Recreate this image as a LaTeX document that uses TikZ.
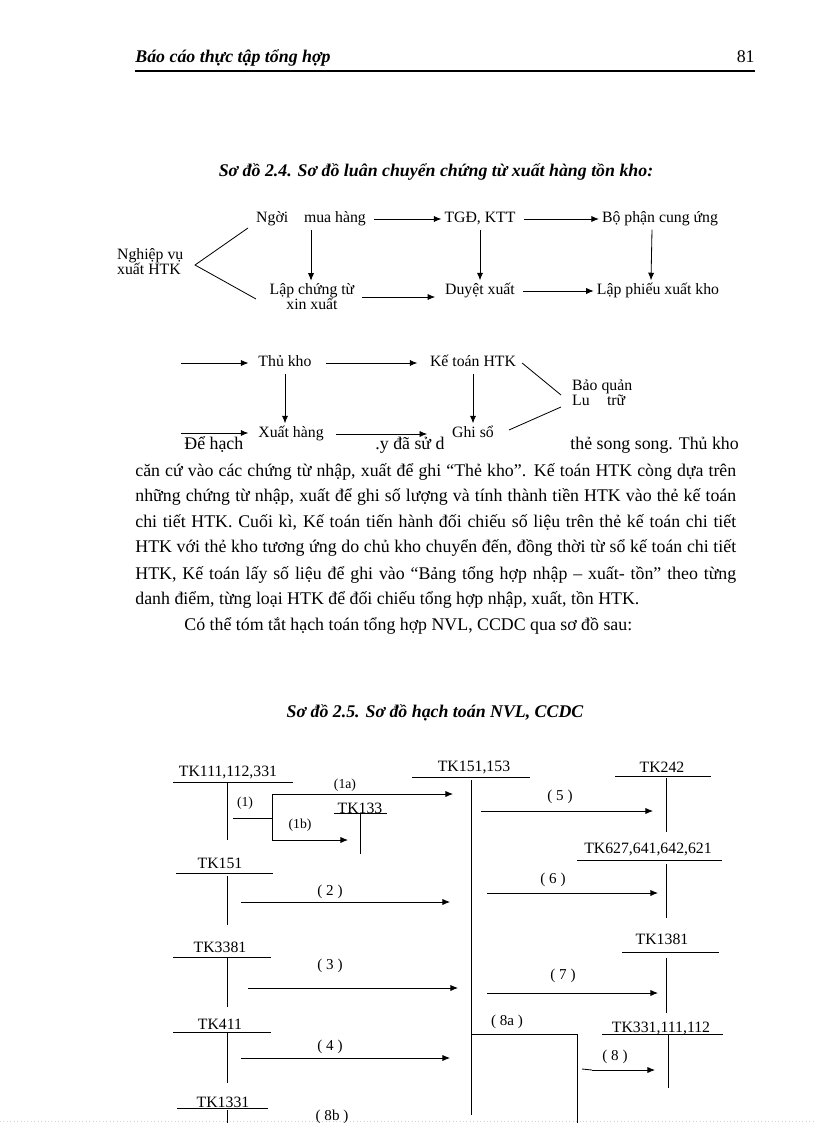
\documentclass[tikz,border=0pt]{standalone}
\usepackage{fontspec}
\setmainfont{Liberation Serif}
\usetikzlibrary{calc,arrows.meta}

\begin{document}
\begin{tikzpicture}[x=0.729pt,y=-0.729pt,line width=0.6pt,
	>={Latex[length=5.5pt,width=4.5pt]},
	head/.style={inner sep=0pt,font=\fontsize{13}{15}\selectfont\bfseries\itshape},
	body/.style={anchor=base west,inner sep=0pt,font=\fontsize{13}{15}\selectfont},
	flow/.style={inner sep=2pt,font=\fontsize{11.5}{12}\selectfont,text height=8pt,text depth=3pt},
	flowtwo/.style={inner sep=2pt,font=\fontsize{11.5}{11}\selectfont},
	acct/.style={inner sep=0pt,font=\fontsize{11.5}{12}\selectfont},
	num/.style={inner sep=0pt,font=\fontsize{11}{12}\selectfont},
	small/.style={inner sep=0pt,font=\fontsize{10}{12}\selectfont}]
	
	\fill[white] (0,0) rectangle (816,1123);
	\useasboundingbox (0,0) rectangle (816,1123);
	
	% page head
	\node[head,anchor=base west] (hdr) at (135,63) {Báo cáo thực tập tổng hợp};
	\node[anchor=base east,inner sep=0pt,font=\fontsize{13}{15}\selectfont] (pg) at (755,63) {81};
	\draw[line width=1.6pt] (135,71) -- (755,71);
	
	\node[head,anchor=base] (title1) at (436,177) {Sơ đồ 2.4. Sơ đồ luân chuyển chứng từ xuất hàng tồn kho:};
	
	% so do 2.4
	\node[flowtwo,align=left,anchor=west] (nghiep) at (114,262) {Nghiệp vụ\\xuất HTK};
	\node[flow] (buyer) at (311,219) {Ngời\hspace{1em}mua hàng};
	\node[flow] (tgd) at (480,219) {TGĐ, KTT};
	\node[flow] (bpcu) at (660,219) {Bộ phận cung ứng};
	\node[flowtwo,align=center] (lapct) at (312,297) {Lập chứng từ\\xin xuất};
	\node[flow] (duyet) at (480,291) {Duyệt xuất};
	\node[flow] (lappx) at (658,291) {Lập phiếu xuất kho};
	
	\coordinate (fork) at (195,265);
	\coordinate (forka) at (248,228);
	\coordinate (forkb) at (256,299);
	\draw (forka) -- (fork) -- (forkb);
	
	\draw[->,shorten <=4pt] (buyer) -- (tgd);
	\draw[->,shorten <=4pt] (tgd) -- (bpcu);
	\draw[->] (buyer) -- (buyer |- lapct.north);
	\draw[->] (tgd) -- (duyet);
	\draw[->] ($(bpcu.south)+(-8,0)$) -- ($(lappx.north)+(-7,0)$);
	\draw[->,shorten <=3pt,shorten >=5pt] (lapct.east) -- (lapct.east -| duyet.west);
	\draw[->,shorten <=4pt] (duyet) -- (lappx);
	
	\node[flow] (thukho) at (285,363) {Thủ kho};
	\node[flow] (ketoan) at (473,363) {Kế toán HTK};
	\node[flowtwo,align=left,anchor=west] (baoquan) at (569,393) {Bảo quản\\Lu\hspace{1.1em}trữ};
	\node[flow] (xuathang) at (291,434) {Xuất hàng};
	\node[flow] (ghiso) at (473,434) {Ghi sổ};
	
	% doan van bi so do che
	\node[body] (fragA) at (184,449) {Để hạch};
	\node[body] (fragB) at (375,449) {.y đã sử d};
	\node[body] (fragC) at (570,449) {thẻ song song. Thủ kho};
	
	\coordinate (inA) at (181,363);
	\coordinate (inB) at (181,433);
	\draw[->,shorten >=5pt] (inA) -- (thukho);
	\draw[->,shorten <=8pt,shorten >=7pt] (thukho) -- (ketoan);
	\draw[->,shorten >=5pt] (inB) -- (inB -| xuathang.west);
	\draw[->,shorten <=7pt,shorten >=16pt] (xuathang) -- (ghiso);
	\draw[->] (thukho.south) -- (thukho.south |- xuathang.north);
	\draw[->] (ketoan) -- (ghiso);
	\coordinate (bqa) at (561,395);
	\coordinate (bqb) at (561,407);
	\draw ($(ketoan.east)+(3,0)$) -- (bqa);
	\draw (bqb) -- ($(ghiso.east)+(12,-4)$);
	
	% doan van
	\node[body] (p2) at (135,476) {\makebox[438pt][s]{căn cứ vào các chứng từ nhập, xuất để ghi “Thẻ kho”. Kế toán HTK còng dựa trên}};
	\node[body] (p3) at (135,501) {\makebox[438pt][s]{những chứng từ nhập, xuất để ghi số lượng và tính thành tiền HTK vào thẻ kế toán}};
	\node[body] (p4) at (135,527) {\makebox[438pt][s]{chi tiết HTK. Cuối kì, Kế toán tiến hành đối chiếu số liệu trên thẻ kế toán chi tiết}};
	\node[body] (p5) at (135,552) {\makebox[438pt][s]{HTK với thẻ kho tương ứng do chủ kho chuyển đến, đồng thời từ sổ kế toán chi tiết}};
	\node[body] (p6) at (135,579) {\makebox[438pt][s]{HTK, Kế toán lấy số liệu để ghi vào “Bảng tổng hợp nhập – xuất- tồn” theo từng}};
	\node[body] (p7) at (135,604) {danh điểm, từng loại HTK để đối chiếu tổng hợp nhập, xuất, tồn HTK.};
	\node[body] (p8) at (184,630) {Có thể tóm tắt hạch toán tổng hợp NVL, CCDC qua sơ đồ sau:};
	
	\node[head,anchor=base] (title2) at (435,717) {Sơ đồ 2.5. Sơ đồ hạch toán NVL, CCDC};
	
	% so do 2.5: tai khoan chu T
	\foreach \nm/\lbl/\tx/\ty/\la/\lb/\ly/\vx/\vt/\vb in {
		tkA/{TK111,112,331}/228/772/173/293/782/227/782/840,
		tkB/{TK133}/360/808/334/387/813/360/813/854,
		tkC/{TK151,153}/474/767/412/530/777/471/780/1115,
		tkD/{TK242}/662/767/615/711/776/666/778/832,
		tkE/{TK627,641,642,621}/648/849/577/722/860/666/864/918,
		tkF/{TK151}/220/863/176/273/873/227/876/925,
		tkG/{TK1381}/662/939/622/719/952/666/958/1013,
		tkH/{TK3381}/220/947/173/271/957/227/957/1007,
		tkI/{TK331,111,112}/661/1028/602/723/1034/668/1034/1088,
		tkJ/{TK411}/220/1024/173/271/1032/227/1032/1083,
		tkK/{TK1331}/223/1102/177/268/1108/227/1110/1123}{
		\node[acct] (\nm) at (\tx,\ty) {\lbl};
		\draw (\la,\ly) -- (\lb,\ly);
		\draw (\vx,\vt) -- (\vx,\vb);}
	
	\foreach \nm/\xa/\xb/\yy in {a1a/272/453/794, a1b/272/348/840, a2/241/450/902,
		a3/248/458/988, a4/241/450/1058, a5/481/653/811, a6/487/658/893,
		a7/487/658/993, a8/592/655/1070}{
		\coordinate (\nm-s) at (\xa,\yy);
		\coordinate (\nm-e) at (\xb,\yy);
		\draw[->] (\nm-s) -- (\nm-e);}
	
	\coordinate (brk) at (233,818);
	\draw (a1a-s) -- (a1b-s);
	\draw (brk) -- (brk -| a1a-s);
	\draw (582,1069) -- (a8-s);
	\draw (471,1034) -- (577,1034) -- (577,1123);
	
	\node[small] (l1) at (245,803) {(1)};
	\node[small] (l1a) at (345,785) {(1a)};
	\node[small] (l1b) at (300,825) {(1b)};
	\foreach \nm/\lbl/\x/\y in {l2/2/330/892, l3/3/330/966, l4/4/330/1047, l5/5/560/797,
		l6/6/553/880, l7/7/563/976, l8/8/615/1057, l8a/8a/507/1022, l8b/8b/332/1117}
		\node[num] (\nm) at (\x,\y) {( \lbl{} )};
	
	\draw[gray!35,dotted,line width=0.5pt] (0,1121) -- (816,1121);
\end{tikzpicture}
\end{document}
